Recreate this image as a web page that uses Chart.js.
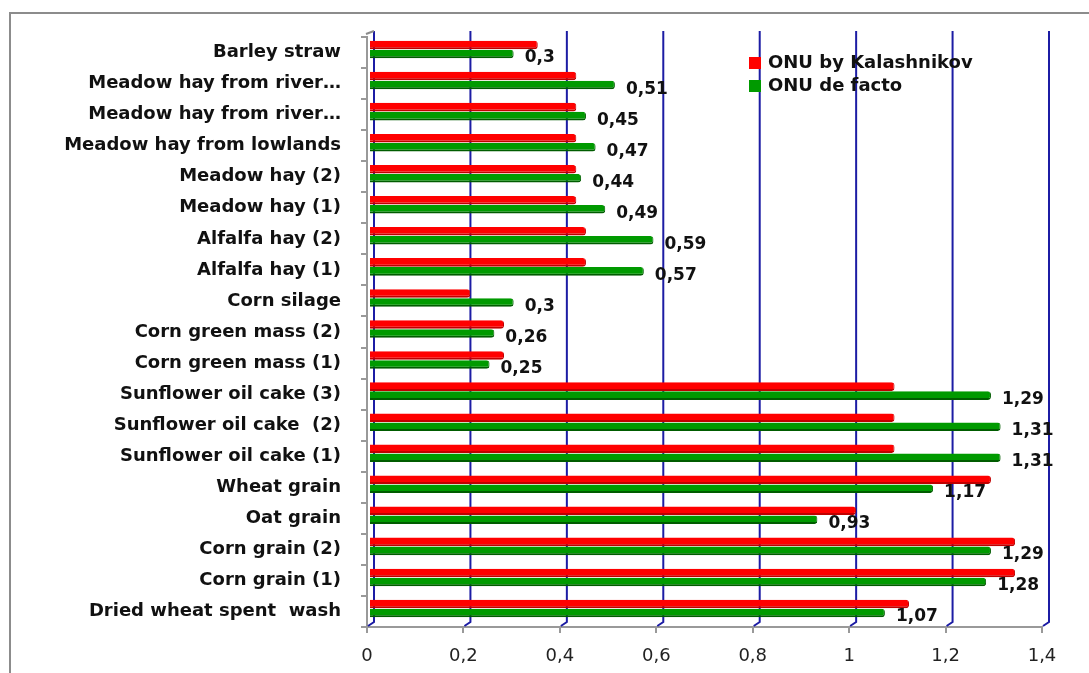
<!DOCTYPE html>
<html>
<head>
<meta charset="utf-8">
<script src="https://cdn.jsdelivr.net/npm/chart.js@4/dist/chart.umd.min.js"></script>
<style>
  body { margin: 0; background: #fff; }
  #wrap { width: 1089px; height: 673px; position: relative; }
</style>
</head>
<body>
<div id="wrap"><canvas id="onuChart"></canvas></div>
<script>
const feeds = [
  "Barley straw",
  "Meadow hay from river…",
  "Meadow hay from river…",
  "Meadow hay from lowlands",
  "Meadow hay (2)",
  "Meadow hay (1)",
  "Alfalfa hay (2)",
  "Alfalfa hay (1)",
  "Corn silage",
  "Corn green mass (2)",
  "Corn green mass (1)",
  "Sunflower oil cake (3)",
  "Sunflower oil cake  (2)",
  "Sunflower oil cake (1)",
  "Wheat grain",
  "Oat grain",
  "Corn grain (2)",
  "Corn grain (1)",
  "Dried wheat spent  wash",
];
const onuKalashnikov = [0.35, 0.43, 0.43, 0.43, 0.43, 0.43, 0.45, 0.45, 0.21, 0.28, 0.28, 1.09, 1.09, 1.09, 1.29, 1.01, 1.34, 1.34, 1.12];
const onuDeFacto = [0.3, 0.51, 0.45, 0.47, 0.44, 0.49, 0.59, 0.57, 0.3, 0.26, 0.25, 1.29, 1.31, 1.31, 1.17, 0.93, 1.29, 1.28, 1.07];
const xTicks = [0, 0.2, 0.4, 0.6, 0.8, 1, 1.2, 1.4];

const commaNum = (v) => String(Number(v.toFixed(2))).replace(".", ",");

// frame, back-wall gridlines and the 3d depth shift of the bars
const decor = {
  id: "decor",
  beforeDraw(chart) {
    const c = chart.ctx;
    c.save();
    c.strokeStyle = "#8c8c8c";
    c.lineWidth = 2;
    c.beginPath();
    c.moveTo(10, chart.height);
    c.lineTo(10, 13);
    c.lineTo(chart.width, 13);
    c.stroke();
    c.restore();
  },
  beforeDatasetsDraw(chart) {
    const c = chart.ctx;
    const xs = chart.scales.x;
    const area = chart.chartArea;
    c.save();
    c.strokeStyle = "#1c1ca4";
    c.lineWidth = 2;
    xTicks.forEach((v) => {
      const px = xs.getPixelForValue(v);
      c.beginPath();
      c.moveTo(px + 7, area.top - 6);
      c.lineTo(px + 7, area.bottom - 5);
      c.lineTo(px + 1, area.bottom - 1);
      c.stroke();
    });
    c.strokeStyle = "#8c8c8c";
    c.beginPath();
    c.moveTo(area.left - 1, area.top - 3);
    c.lineTo(area.left + 7, area.top - 6);
    c.stroke();
    c.restore();
    c.save();
    c.translate(2, -3);
  },
  afterDatasetsDraw(chart) {
    const c = chart.ctx;
    c.restore();
    // value labels for the "de facto" series
    const meta = chart.getDatasetMeta(1);
    c.save();
    c.font = "bold 17px 'DejaVu Sans'";
    c.fillStyle = "#111";
    c.textBaseline = "middle";
    c.textAlign = "left";
    meta.data.forEach((bar, i) => {
      c.fillText(commaNum(onuDeFacto[i]), bar.x + 13, bar.y + 1);
    });
    c.restore();
  },
  afterDraw(chart) {
    const c = chart.ctx;
    c.save();
    c.font = "bold 18px 'DejaVu Sans'";
    c.textBaseline = "middle";
    chart.data.datasets.forEach((ds, i) => {
      const y = 63 + i * 23;
      c.fillStyle = ds.backgroundColor;
      c.fillRect(749, y - 6, 12, 12);
      c.fillStyle = "#111";
      c.fillText(ds.label, 768, y);
    });
    c.restore();
  },
};

new Chart(document.getElementById("onuChart"), {
  type: "bar",
  data: {
    labels: feeds,
    datasets: [
      {
        label: "ONU by Kalashnikov",
        data: onuKalashnikov,
        backgroundColor: "#ff0000",
        borderColor: "#c00000",
        borderWidth: { top: 0, right: 1, bottom: 2, left: 0 },
      },
      {
        label: "ONU de facto",
        data: onuDeFacto,
        backgroundColor: "#009a00",
        borderColor: "#005c00",
        borderWidth: { top: 0, right: 1, bottom: 2, left: 0 },
      },
    ],
  },
  options: {
    indexAxis: "y",
    responsive: true,
    maintainAspectRatio: false,
    animation: false,
    layout: {
      padding: { left: 0, right: 47, top: 37, bottom: 0 },
    },
    datasets: {
      bar: {
        categoryPercentage: 0.58,
        barPercentage: 0.95,
        borderRadius: 3,
        borderSkipped: "start",
      },
    },
    scales: {
      x: {
        min: 0,
        max: 1.4,
        afterFit(scale) {
          scale.height = 46;
        },
        afterBuildTicks(scale) {
          scale.ticks = xTicks.map((v) => ({ value: v }));
        },
        grid: {
          drawOnChartArea: false,
          drawTicks: true,
          tickLength: 6,
          color: "#999",
          lineWidth: 2,
        },
        border: { color: "#999", width: 2 },
        ticks: {
          padding: 13,
          color: "#222",
          font: { family: "DejaVu Sans", size: 18 },
          callback: (v) => commaNum(v),
        },
      },
      y: {
        afterFit(scale) {
          scale.width = 367;
        },
        grid: {
          drawOnChartArea: false,
          drawTicks: true,
          tickLength: 6,
          color: "#999",
          lineWidth: 2,
        },
        border: { color: "#999", width: 2 },
        ticks: {
          padding: 20,
          color: "#111",
          autoSkip: false,
          font: { family: "DejaVu Sans", size: 18, weight: "bold" },
        },
      },
    },
    plugins: {
      legend: { display: false },
      tooltip: { enabled: false },
    },
  },
  plugins: [decor],
});
</script>
</body>
</html>
